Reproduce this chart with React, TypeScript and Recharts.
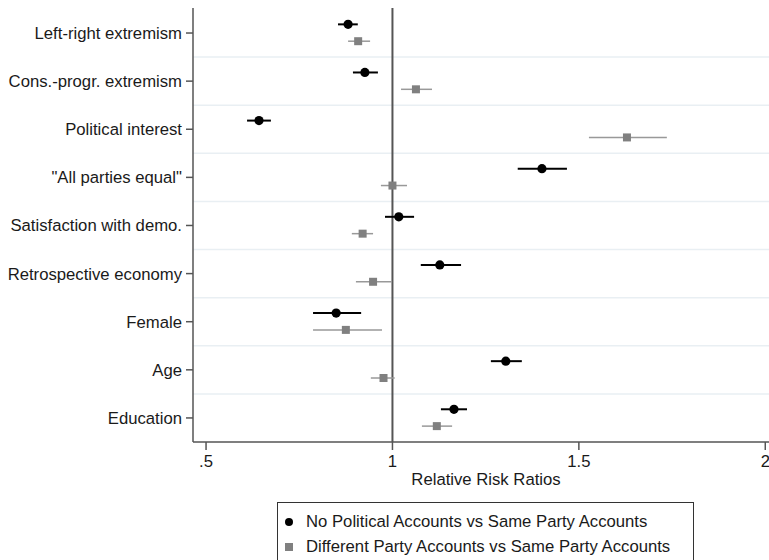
import React from 'react';
import {
  ScatterChart,
  Scatter,
  XAxis,
  YAxis,
  ErrorBar,
  ReferenceLine,
} from 'recharts';

const categories = [
  'Left-right extremism',
  'Cons.-progr. extremism',
  'Political interest',
  '"All parties equal"',
  'Satisfaction with demo.',
  'Retrospective economy',
  'Female',
  'Age',
  'Education',
];

// No Political Accounts vs Same Party Accounts
const noPolRR = [0.881, 0.926, 0.642, 1.401, 1.017, 1.127, 0.849, 1.304, 1.165];
const noPolLow = [0.854, 0.894, 0.61, 1.336, 0.98, 1.076, 0.787, 1.264, 1.13];
const noPolHigh = [0.907, 0.961, 0.674, 1.468, 1.058, 1.184, 0.916, 1.347, 1.2];

// Different Party Accounts vs Same Party Accounts
const diffRR = [0.908, 1.063, 1.629, 1.0, 0.92, 0.948, 0.875, 0.976, 1.119];
const diffLow = [0.881, 1.023, 1.527, 0.969, 0.891, 0.902, 0.787, 0.942, 1.079];
const diffHigh = [0.94, 1.106, 1.736, 1.039, 0.948, 0.999, 0.972, 1.006, 1.16];

const xTicks = [0.5, 1, 1.5, 2];
const xTickLabels = ['.5', '1', '1.5', '2'];

const BLACK = '#000000';
const GREY = '#808080';
const AXIS = '#555555';
const GRID = '#e9eff3';
const TEXT = '#1a1a1a';
const FONT = 16.7;

const build = (rr: number[], lo: number[], hi: number[], shift: number) =>
  rr.map((v, i) => ({
    rr: v,
    pos: i + 1 + shift,
    err: [v - lo[i], hi[i] - v],
  }));

const noPolData = build(noPolRR, noPolLow, noPolHigh, -0.18);
const diffData = build(diffRR, diffLow, diffHigh, 0.17);
const gridPositions = categories.slice(1).map((_, i) => i + 1.5);

const Dot = (props: any) => (
  <circle cx={props.cx} cy={props.cy} r={4.6} fill={BLACK} />
);
const Square = (props: any) => (
  <rect x={props.cx - 4} y={props.cy - 4} width={8} height={8} fill={GREY} />
);

const legendItems = [
  { name: 'No Political Accounts vs Same Party Accounts', kind: 'dot' },
  { name: 'Different Party Accounts vs Same Party Accounts', kind: 'square' },
];

const LegendBox = () => (
  <div
    style={{
      position: 'absolute',
      left: 277,
      top: 502,
      border: '1px solid #333',
      width: 417,
      height: 58,
      boxSizing: 'border-box',
      borderBottom: 'none',
      padding: '6px 0 0 5px',
      background: '#fff',
      fontSize: FONT,
      color: TEXT,
      lineHeight: '25px',
    }}
  >
    {legendItems.map((it) => (
      <div key={it.name} style={{ display: 'flex', alignItems: 'center' }}>
        <svg width={23} height={14}>
          {it.kind === 'dot' ? (
            <circle cx={6} cy={7} r={4} fill={BLACK} />
          ) : (
            <rect x={2} y={3} width={8} height={8} fill={GREY} />
          )}
        </svg>
        <span>{it.name}</span>
      </div>
    ))}
  </div>
);

const XTick = (props: any) => {
  const { x, y, payload } = props;
  const label = xTickLabels[xTicks.indexOf(payload.value)] ?? String(payload.value);
  return (
    <text x={x} y={y + 13} textAnchor="middle" fill={TEXT} fontSize={FONT}>
      {label}
    </text>
  );
};

export default function App() {
  return (
    <div
      style={{
        position: 'absolute',
        left: 0,
        top: 0,
        width: 769,
        height: 560,
        overflow: 'hidden',
        background: '#fff',
        fontFamily: '"Liberation Sans", Arial, sans-serif',
      }}
    >
      <ScatterChart
        width={769}
        height={560}
        margin={{ top: 8, right: 0, bottom: 0, left: 0 }}
        style={{ overflow: 'visible' }}
      >
        <XAxis
          type="number"
          dataKey="rr"
          domain={[0.465, 2.01]}
          allowDataOverflow
          ticks={xTicks}
          interval={0}
          axisLine={{ stroke: AXIS, strokeWidth: 1.5 }}
          tickLine={{ stroke: AXIS, strokeWidth: 1.5 }}
          tickSize={8}
          tickMargin={4}
          tick={<XTick />}
          height={118}
          label={{
            value: 'Relative Risk Ratios',
            position: 'insideTop',
            offset: 31,
            dx: 5,
            fill: TEXT,
            fontSize: FONT,
          }}
        />
        <YAxis
          type="number"
          dataKey="pos"
          reversed
          domain={[0.48, 9.5]}
          allowDataOverflow
          ticks={categories.map((_, i) => i + 1)}
          interval={0}
          tickFormatter={(v: number) => categories[v - 1]}
          width={193}
          axisLine={{ stroke: AXIS, strokeWidth: 1.5 }}
          tickLine={{ stroke: AXIS, strokeWidth: 1.5 }}
          tickSize={7}
          tickMargin={4}
          tick={{ fill: TEXT, fontSize: FONT }}
        />
        {gridPositions.map((p) => (
          <ReferenceLine key={p} y={p} stroke={GRID} strokeWidth={1.5} />
        ))}
        <ReferenceLine x={1} stroke={AXIS} strokeWidth={2} />
        <Scatter
          name="No Political Accounts vs Same Party Accounts"
          data={noPolData}
          shape={Dot}
          isAnimationActive={false}
        >
          <ErrorBar
            dataKey="err"
            direction="x"
            width={0}
            stroke={BLACK}
            strokeWidth={2}
            isAnimationActive={false}
          />
        </Scatter>
        <Scatter
          name="Different Party Accounts vs Same Party Accounts"
          data={diffData}
          shape={Square}
          isAnimationActive={false}
        >
          <ErrorBar
            dataKey="err"
            direction="x"
            width={0}
            stroke="#999999"
            strokeWidth={1.5}
            isAnimationActive={false}
          />
        </Scatter>
      </ScatterChart>
      <LegendBox />
    </div>
  );
}
